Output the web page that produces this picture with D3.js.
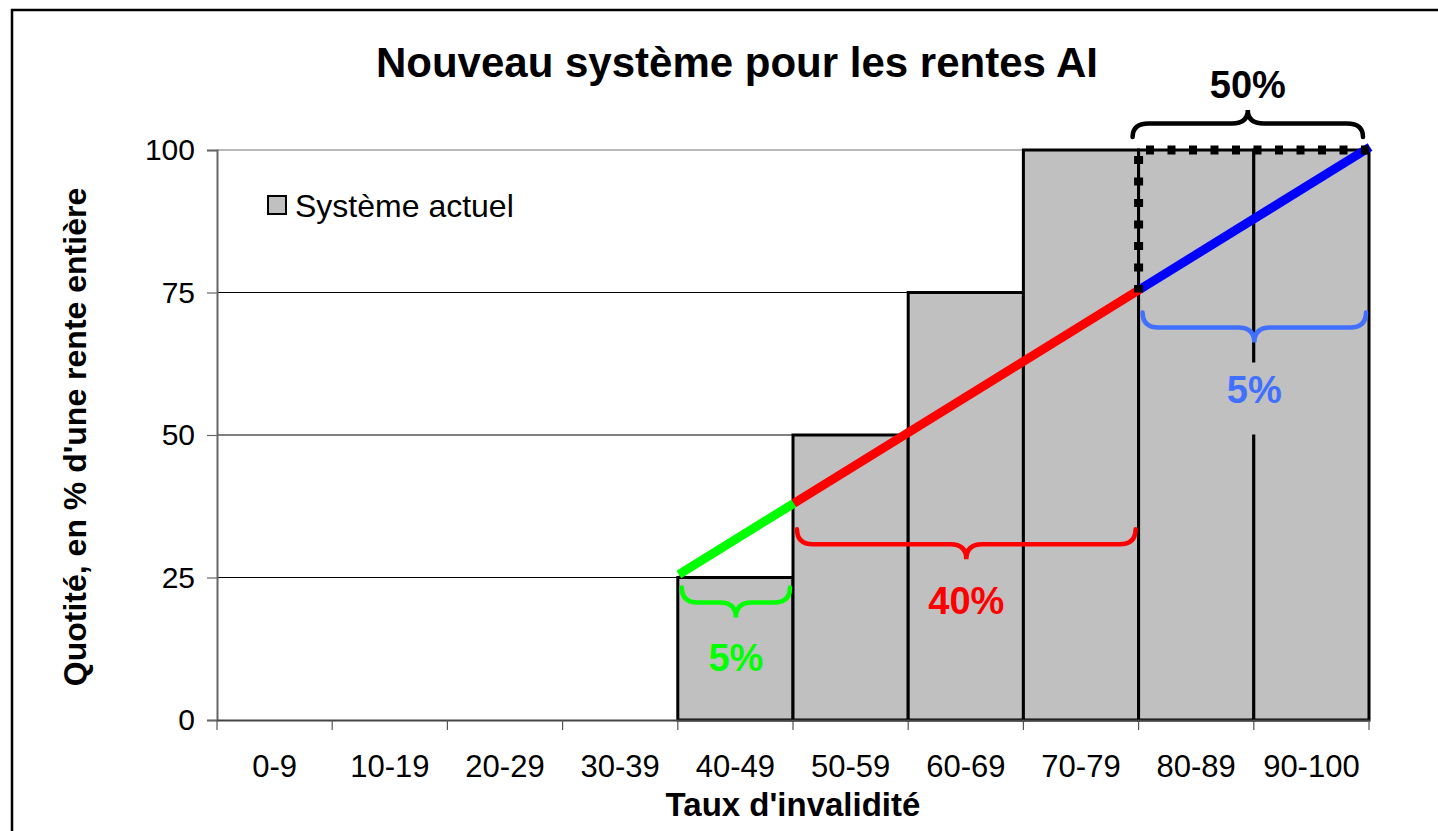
<!DOCTYPE html>
<html>
<head>
<meta charset="utf-8">
<script src="https://cdn.jsdelivr.net/npm/d3@7"></script>
<style>
  body { margin: 0; background: #fff; }
  text { font-family: "Liberation Sans", Arial, sans-serif; fill: #000; }
</style>
</head>
<body>
<div id="chart"></div>
<script>
// data
var categories = ["0-9", "10-19", "20-29", "30-39", "40-49", "50-59", "60-69", "70-79", "80-89", "90-100"];
var currentQuota = [0, 0, 0, 0, 25, 50, 75, 100, 100, 100];
var yTicks = [0, 25, 50, 75, 100];

// new system: linear quota between 40% and 100% disability
var newRates = [40, 50, 80, 100];
var newQuota = [25, 37.5, 75, 100];
var segmentColors = ["#00ff00", "#ff0000", "#0000ff"];
var segmentLabels = ["5%", "40%", "5%"];
var labelColors = ["#00ff00", "#ff0000", "#4170ff"];

var svgWidth = 1438;
var svgHeight = 831;

var margin = { top: 150, left: 217 };
var width = 1152;
var height = 570;

var svg = d3.select("#chart")
  .append("svg")
  .attr("width", svgWidth)
  .attr("height", svgHeight);

// outer frame
svg.append("rect")
  .attr("x", 12)
  .attr("y", 10)
  .attr("width", 1600)
  .attr("height", 1000)
  .attr("fill", "none")
  .attr("stroke", "#000")
  .attr("stroke-width", 2.5);

var chartGroup = svg.append("g")
  .attr("transform", `translate(${margin.left}, ${margin.top})`);

// scales
var xBand = d3.scaleBand()
  .domain(categories)
  .range([0, width])
  .padding(0);

var xRate = d3.scaleLinear()
  .domain([0, 100])
  .range([0, width]);

var yScale = d3.scaleLinear()
  .domain([0, 100])
  .range([height, 0]);

// gridlines
chartGroup.selectAll(".grid")
  .data(yTicks.filter(d => d > 0))
  .enter()
  .append("line")
  .attr("x1", 0)
  .attr("x2", width)
  .attr("y1", d => yScale(d))
  .attr("y2", d => yScale(d))
  .attr("stroke", d => d === 100 ? "#777" : "#000")
  .attr("stroke-width", 1.2);

// bars (current system)
chartGroup.selectAll(".bar")
  .data(currentQuota.map((v, i) => ({ cat: categories[i], v: v })).filter(d => d.v > 0))
  .enter()
  .append("rect")
  .attr("x", d => xBand(d.cat))
  .attr("y", d => yScale(d.v))
  .attr("width", xBand.bandwidth())
  .attr("height", d => height - yScale(d.v))
  .attr("fill", "#c0c0c0")
  .attr("stroke", "#000")
  .attr("stroke-width", 3);

// y axis
var leftAxis = d3.axisLeft(yScale)
  .tickValues(yTicks)
  .tickSize(10)
  .tickPadding(12);

var yAxis = chartGroup.append("g").call(leftAxis);
yAxis.select(".domain").attr("stroke", "#666").attr("stroke-width", 2);
yAxis.selectAll(".tick line").attr("stroke", "#666").attr("stroke-width", 1.2);
yAxis.selectAll(".tick text")
  .style("font-size", "30px")
  .style("font-family", "'Liberation Sans', Arial, sans-serif")
  .attr("fill", "#000");

// x axis
var bottomAxis = d3.axisBottom(xBand)
  .tickSize(0)
  .tickPadding(35);

var xAxis = chartGroup.append("g")
  .attr("transform", `translate(0, ${height})`)
  .call(bottomAxis);
xAxis.select(".domain").attr("stroke", "#444").attr("stroke-width", 2);
xAxis.selectAll(".tick text")
  .style("font-size", "31px")
  .style("font-family", "'Liberation Sans', Arial, sans-serif")
  .attr("fill", "#000");

// boundary ticks between categories
chartGroup.append("g")
  .selectAll("line")
  .data(d3.range(categories.length + 1))
  .enter()
  .append("line")
  .attr("x1", i => i * xBand.bandwidth())
  .attr("x2", i => i * xBand.bandwidth())
  .attr("y1", height)
  .attr("y2", height + 10)
  .attr("stroke", "#555")
  .attr("stroke-width", 1.2);

// new system line: thin black base
var lineGen = d3.line()
  .x(d => xRate(d[0]))
  .y(d => yScale(d[1]));

var pts = newRates.map((r, i) => [r, newQuota[i]]);

chartGroup.append("path")
  .attr("d", lineGen(pts))
  .attr("fill", "none")
  .attr("stroke", "#000")
  .attr("stroke-width", 2);

// coloured segments
for (var i = 0; i < pts.length - 1; i++) {
  chartGroup.append("path")
    .attr("d", lineGen([pts[i], pts[i + 1]]))
    .attr("transform", "translate(1, -3)")
    .attr("fill", "none")
    .attr("stroke", segmentColors[i])
    .attr("stroke-width", 9);
}

// dotted box showing the 50% gain over 80%
chartGroup.append("path")
  .attr("d", lineGen([[100, 100], [80, 100], [80, newQuota[2]]]))
  .attr("fill", "none")
  .attr("stroke", "#000")
  .attr("stroke-width", 9)
  .attr("stroke-dasharray", "8,13.5");

// curly braces
function bracePath(x0, x1, y0, h, dir) {
  var xm = (x0 + x1) / 2;
  var ym = y0 + dir * h / 2;
  var yt = y0 + dir * h;
  var r = Math.min(16, (x1 - x0) / 4);
  return `M${x0},${y0} Q${x0},${ym} ${x0 + r},${ym} L${xm - r},${ym} Q${xm},${ym} ${xm},${yt}` +
    ` Q${xm},${ym} ${xm + r},${ym} L${x1 - r},${ym} Q${x1},${ym} ${x1},${y0}`;
}

var braces = [
  { from: 40, to: 50, y: yScale(25) + 10, labelDy: 53 },
  { from: 50, to: 80, y: yScale(37.5) + 23, labelDy: 55 },
  { from: 80, to: 100, y: yScale(75) + 20, labelDy: 60 }
];

braces.forEach(function(b, i) {
  var x0 = xRate(b.from) + 4;
  var x1 = xRate(b.to) - 3;
  chartGroup.append("path")
    .attr("d", bracePath(x0, x1, b.y, 30, 1))
    .attr("fill", "none")
    .attr("stroke", labelColors[i])
    .attr("stroke-width", 4.5)
    .attr("stroke-linecap", "round");

  var cx = (x0 + x1) / 2;
  if (i === 2) {
    // label box hides the bar divider
    chartGroup.append("rect")
      .attr("x", cx - 30)
      .attr("y", b.y + 50)
      .attr("width", 60)
      .attr("height", 72)
      .attr("fill", "#c0c0c0");
  }
  chartGroup.append("text")
    .attr("x", cx)
    .attr("y", b.y + 30 + b.labelDy)
    .attr("text-anchor", "middle")
    .style("font-size", "38px")
    .style("font-weight", "bold")
    .style("fill", labelColors[i])
    .text(segmentLabels[i]);
});

// black brace over top (50%)
var bx0 = xRate(80) - 6;
var bx1 = xRate(100) - 6;
chartGroup.append("path")
  .attr("d", bracePath(bx0, bx1, yScale(100) - 13, 27, -1))
  .attr("fill", "none")
  .attr("stroke", "#000")
  .attr("stroke-width", 4.5)
  .attr("stroke-linecap", "round");

chartGroup.append("text")
  .attr("x", (bx0 + bx1) / 2)
  .attr("y", yScale(100) - 52)
  .attr("text-anchor", "middle")
  .style("font-size", "38px")
  .style("font-weight", "bold")
  .text("50%");

// legend
svg.append("rect")
  .attr("x", 268)
  .attr("y", 196)
  .attr("width", 18)
  .attr("height", 18)
  .attr("fill", "#c0c0c0")
  .attr("stroke", "#000")
  .attr("stroke-width", 2);

svg.append("text")
  .attr("x", 295)
  .attr("y", 217)
  .style("font-size", "32px")
  .text("Système actuel");

// title
svg.append("text")
  .attr("x", 737)
  .attr("y", 77)
  .attr("text-anchor", "middle")
  .style("font-size", "42px")
  .style("font-weight", "bold")
  .text("Nouveau système pour les rentes AI");

// axis titles
svg.append("text")
  .attr("x", margin.left + width / 2)
  .attr("y", 816)
  .attr("text-anchor", "middle")
  .style("font-size", "33px")
  .style("font-weight", "bold")
  .text("Taux d'invalidité");

svg.append("text")
  .attr("transform", "rotate(-90)")
  .attr("x", -437)
  .attr("y", 86)
  .attr("text-anchor", "middle")
  .style("font-size", "32px")
  .style("font-weight", "bold")
  .text("Quotité, en % d'une rente entière");
</script>
</body>
</html>
